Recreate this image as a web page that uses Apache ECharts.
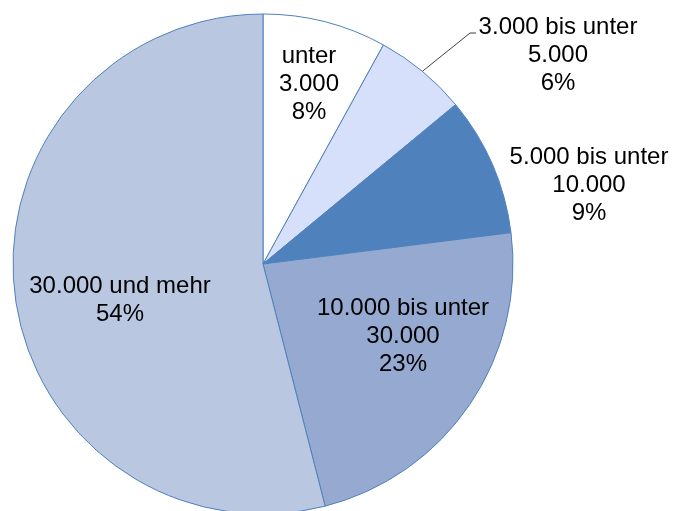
<!DOCTYPE html>
<html>
<head>
<meta charset="utf-8">
<script src="https://cdn.jsdelivr.net/npm/echarts@6/dist/echarts.min.js"></script>
<style>
  html, body { margin: 0; padding: 0; background: #fff; }
  #chart { width: 677px; height: 511px; }
</style>
</head>
<body>
<div id="chart"></div>
<script>
// Einkommensklassen und Anteile (%)
var categories = ["unter\n3.000", "3.000 bis unter\n5.000", "5.000 bis unter\n10.000", "10.000 bis unter\n30.000", "30.000 und mehr"];
var shares = [8, 6, 9, 23, 54];
var colors = ["#ffffff", "#d7e0fa", "#4f81bd", "#95a9d1", "#b9c7e1"];

// Lage der Beschriftungen (Pixel)
var labelPos = [[309, 84], [558, 55], [589, 185], [403, 336], [120, 300]];

var chart = echarts.init(document.getElementById("chart"));

var data = categories.map(function (name, i) {
  var item = { name: name, value: shares[i], itemStyle: { color: colors[i] } };
  if (i === 1) {
    item.label = { position: "outside" };
    item.labelLine = { show: true, length: 10, length2: 10, lineStyle: { color: "#404040", width: 1 } };
  }
  if (i === 2) {
    item.label = { position: "outside" };
    item.labelLine = { show: false };
  }
  return item;
});

chart.setOption({
  animation: false,
  series: [
    {
      type: "pie",
      center: [263, 264],
      radius: 250,
      startAngle: 90,
      clockwise: true,
      data: data,
      itemStyle: { borderColor: "#4f81bd", borderWidth: 1 },
      label: {
        show: true,
        position: "inside",
        formatter: "{b}\n{d}%",
        color: "#000",
        fontFamily: "Liberation Sans, Arial, sans-serif",
        fontSize: 24,
        lineHeight: 28,
        align: "center",
        overflow: "none"
      },
      labelLine: { show: false },
      labelLayout: function (params) {
        var p = labelPos[params.dataIndex];
        var out = { x: p[0], y: p[1], align: "center", verticalAlign: "middle" };
        if (params.dataIndex === 1 && params.labelLinePoints) {
          var start = params.labelLinePoints[0];
          out.labelLinePoints = [start, [470, 33], [476, 33]];
        }
        return out;
      }
    }
  ]
});
</script>
</body>
</html>
